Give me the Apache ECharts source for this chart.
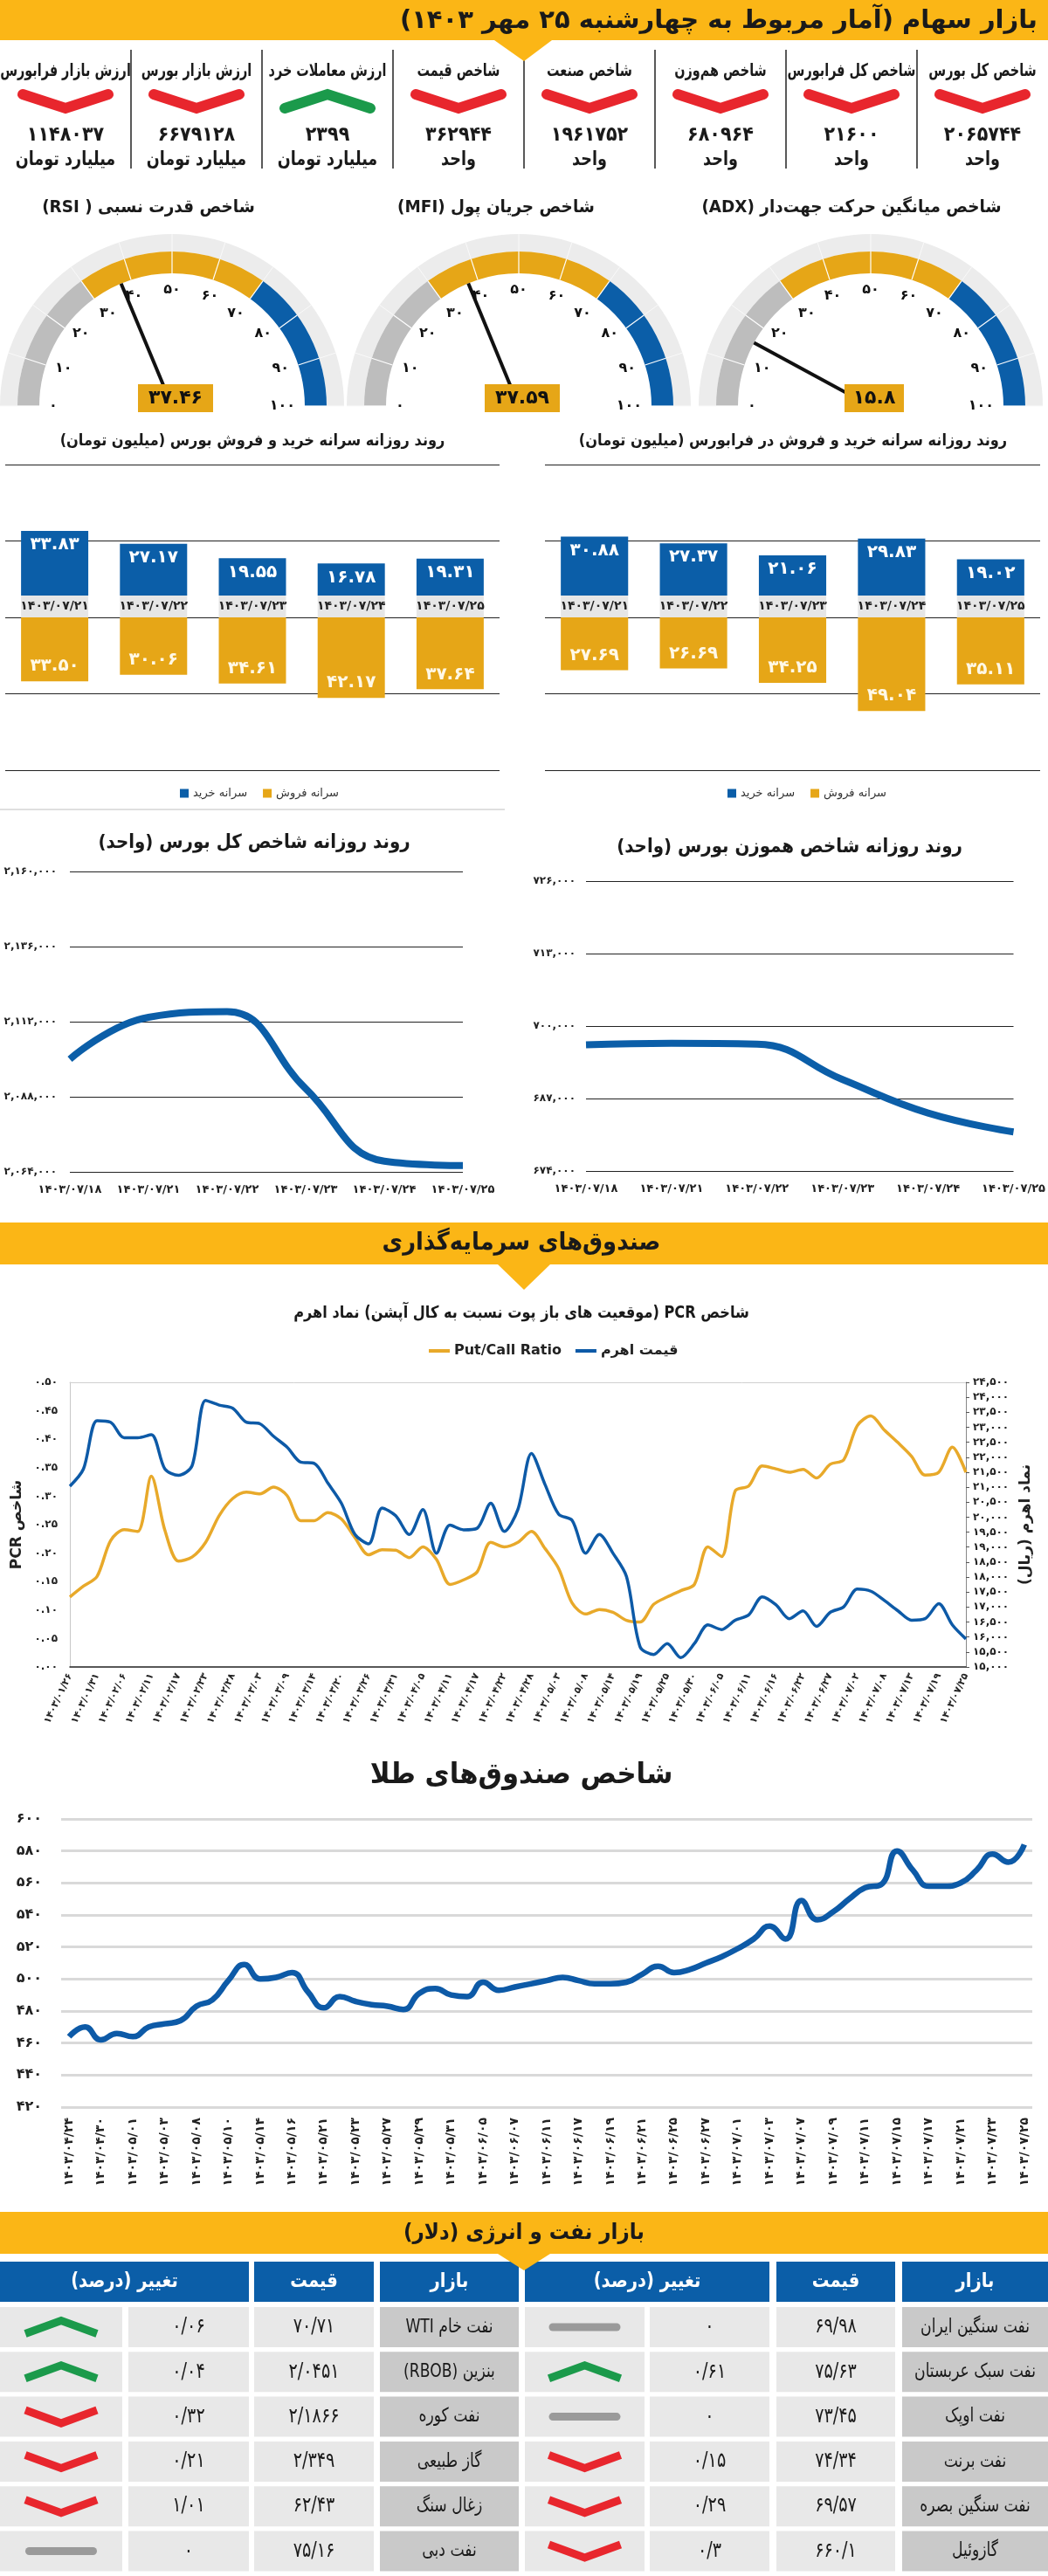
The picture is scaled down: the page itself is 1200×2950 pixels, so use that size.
<!DOCTYPE html>
<html><head><meta charset="utf-8">
<script src="https://cdn.jsdelivr.net/npm/echarts@6/dist/echarts.min.js"></script>
<style>html,body{margin:0;padding:0;background:#fff}#c{width:1200px;height:2950px;direction:rtl}</style>
</head><body><div id="c"></div><script>
// ---------------- DATA ----------------
const indexTitles = ['شاخص کل بورس','شاخص کل فرابورس','شاخص هم‌وزن','شاخص صنعت','شاخص قیمت','ارزش معاملات خرد','ارزش بازار بورس','ارزش بازار فرابورس'];
const indexValues = [2065744, 21600, 680964, 1961752, 362944, 2399, 6679128, 1148037];
const indexUnits = ['واحد','واحد','واحد','واحد','واحد','میلیارد تومان','میلیارد تومان','میلیارد تومان'];
const indexDirs = ['down','down','down','down','down','up','down','down'];

const gaugeTitles = ['شاخص قدرت نسبی ( RSI)','شاخص جریان پول (MFI)','شاخص میانگین حرکت جهت‌دار (ADX)'];
const gaugeValues = [37.46, 37.59, 15.8];

const barDates = ['1403/07/21','1403/07/22','1403/07/23','1403/07/24','1403/07/25'];
const bourseBuy = [33.83, 27.17, 19.55, 16.78, 19.31];
const bourseSell = [33.50, 30.06, 34.61, 42.17, 37.64];
const faraBuy = [30.88, 27.37, 21.06, 29.83, 19.02];
const faraSell = [27.69, 26.69, 34.25, 49.04, 35.11];

const lineDates = ['1403/07/18','1403/07/21','1403/07/22','1403/07/23','1403/07/24','1403/07/25'];
const totalIndex = [2100000, 2113400, 2115200, 2090600, 2067400, 2066000];
const equalIndex = [696650, 696900, 696750, 690400, 684400, 681000];

const pcrLabelDates = ['1403/01/26','1403/01/31','1403/02/06','1403/02/11','1403/02/17','1403/02/23','1403/02/28','1403/03/03','1403/03/09','1403/03/14','1403/03/20','1403/03/26','1403/03/31','1403/04/05','1403/04/11','1403/04/17','1403/04/22','1403/04/28','1403/05/03','1403/05/08','1403/05/14','1403/05/19','1403/05/25','1403/05/30','1403/06/05','1403/06/11','1403/06/16','1403/06/22','1403/06/27','1403/07/02','1403/07/08','1403/07/13','1403/07/19','1403/07/25'];
const pcrRatio = [0.123,0.142,0.159,0.222,0.241,0.238,0.335,0.240,0.186,0.193,0.219,0.266,0.296,0.307,0.304,0.316,0.301,0.257,0.257,0.271,0.260,0.227,0.197,0.206,0.205,0.192,0.211,0.189,0.145,0.153,0.167,0.219,0.211,0.219,0.238,0.208,0.173,0.112,0.093,0.101,0.096,0.082,0.079,0.110,0.123,0.134,0.145,0.211,0.194,0.309,0.318,0.353,0.348,0.342,0.347,0.332,0.356,0.364,0.424,0.441,0.416,0.394,0.370,0.337,0.342,0.386,0.342];
const pcrPrice = [21035,21607,23220,23168,22648,22648,22752,21607,21400,21711,23896,23740,23636,23168,23116,22700,22335,21836,21795,21139,20463,19422,19110,20307,20046,19422,20255,18798,19734,19578,19630,20463,19526,20255,22127,21087,20098,19890,18798,19422,18798,18017,15676,15416,15780,15312,15780,16405,16249,16561,16738,17341,17081,16613,16873,16353,16821,17008,17601,17528,17216,16873,16561,16613,17112,16405,15936];

const goldLabelDates = ['1403/04/24','1403/04/30','1403/05/01','1403/05/03','1403/05/08','1403/05/10','1403/05/14','1403/05/16','1403/05/21','1403/05/23','1403/05/27','1403/05/29','1403/05/31','1403/06/05','1403/06/07','1403/06/11','1403/06/17','1403/06/19','1403/06/21','1403/06/25','1403/06/27','1403/07/01','1403/07/03','1403/07/07','1403/07/09','1403/07/11','1403/07/15','1403/07/17','1403/07/21','1403/07/23','1403/07/25'];
const goldIndex = [464,470,462,466,464,470,472,474,483,487,499,509,500,501,504,492,482,489,486,484,483,481,491,494,490,489,498,493,495,497,499,501,499,497,497,498,503,508,504,506,510,514,519,525,533,525,549,537,542,550,557,559,580,568,558,558,560,568,578,573,584];

const oilNamesR = ['نفت سنگین ایران','نفت سبک عربستان','نفت اوپک','نفت برنت','نفت سنگین بصره','گازوئیل'];
const oilPricesR = ['69.98','75.63','73.45','74.34','69.57','660.1'];
const oilChangesR = ['0','0.61','0','0.15','0.29','0.3'];
const oilDirsR = ['flat','up','flat','down','down','down'];
const oilNamesL = ['نفت خام WTI','بنزین (RBOB)','نفت کوره','گاز طبیعی','زغال سنگ','نفت دبی'];
const oilPricesL = ['70.71','2.0451','2.1866','2.349','62.43','75.16'];
const oilChangesL = ['0.06','0.04','0.32','0.21','1.01','0'];
const oilDirsL = ['up','up','down','down','down','flat'];

// ---------------- HELPERS ----------------
const FONT = "'DejaVu Sans',sans-serif";
const BLUE='#0b5ea8', GOLD='#e6a617', YEL='#fbb616', RED='#e8262d', GREEN='#1b9a4b', DARK='#1a1a1a';
const fa = s => String(s).replace(/[0-9]/g, d => '۰۱۲۳۴۵۶۷۸۹'[+d]);
const fx = (v, d) => fa(Number(v).toFixed(d));
const fc = v => fa(Math.round(v).toLocaleString('en-US'));
const font = (size, bold) => (bold ? 'bold ' : '') + size + 'px ' + FONT;

const G = [];
const txt = (text, x, y, size, o = {}) => G.push({type:'text', x, y, scaleX: o.sx || 1, silent:true, z:10,
  style:{text, font: font(size, o.bold !== false), fill: o.fill || DARK, align: o.align || 'center', verticalAlign:'middle'}});
const rect = (x, y, w, h, fill, r) => G.push({type:'rect', silent:true, shape:{x, y, width:w, height:h, r:r || 0}, style:{fill}});
const poly = (points, fill) => G.push({type:'polygon', silent:true, z:5, shape:{points}, style:{fill}});
const seg = (x1, y1, x2, y2, stroke, lw) => G.push({type:'line', silent:true, shape:{x1, y1, x2, y2}, style:{stroke, lineWidth:lw}});
function icon(dir, cx, cy, w, h, lw, cap) {
  if (dir === 'flat') { rect(cx - w / 2, cy - lw / 2, w, lw, '#9a9a9a', lw / 2); return; }
  const up = dir === 'up';
  const a = up ? cy + h / 2 : cy - h / 2, b = up ? cy - h / 2 : cy + h / 2;
  G.push({type:'polyline', silent:true, z:6, shape:{points:[[cx - w / 2, a], [cx, b], [cx + w / 2, a]]},
    style:{stroke: up ? GREEN : RED, lineWidth: lw, fill: null, lineCap: cap, lineJoin: 'miter'}});
}

// ---------------- HEADER + INDEX BOXES ----------------
rect(0, 0, 1200, 46, YEL);
poly([[566, 46], [632, 46], [600, 70]], YEL);
txt('بازار سهام (آمار مربوط به چهارشنبه ۲۵ مهر ۱۴۰۳)', 1188, 24, 29, {align:'right'});
indexTitles.forEach((t, i) => {
  const cx = 1125 - 150 * i;
  txt(t, cx, 82, 20, {sx:0.72});
  icon(indexDirs[i], cx, 116, 98, 16, 12, 'round');
  txt(fa(indexValues[i]), cx, 155, 23, {sx:0.9});
  txt(indexUnits[i], cx, 183, 22, {sx:0.8});
});
for (let k = 1; k < 8; k++) seg(150 * k, 57, 150 * k, 193, '#222', 1.5);

// gauge titles
const gaugeCx = [197, 594, 997];
const gaugeTitleX = [170, 568, 975];
gaugeTitles.forEach((t, i) => txt(t, gaugeTitleX[i], 238, 20, {sx:0.92}));

// bar & line titles
txt('روند روزانه سرانه خرید و فروش بورس (میلیون تومان)', 289, 505, 18, {sx:0.9});
txt('روند روزانه سرانه خرید و فروش در فرابورس (میلیون تومان)', 908, 505, 18, {sx:0.9});
seg(0, 927, 578, 927, '#d5d5d5', 1.5);
txt('روند روزانه شاخص کل بورس (واحد)', 291, 965, 22, {sx:0.9});
txt('روند روزانه شاخص هموزن بورس (واحد)', 904, 970, 22, {sx:0.9});

// section 2
rect(0, 1400, 1200, 48, YEL);
poly([[570, 1448], [630, 1448], [600, 1477]], YEL);
txt('صندوق‌های سرمایه‌گذاری', 597, 1424, 28, {sx:0.92});
txt('شاخص PCR (موقعیت های باز پوت نسبت به کال آپشن) نماد اهرم', 597, 1504, 19, {sx:0.85});
txt('شاخص صندوق‌های طلا', 597, 2033, 33, {sx:0.93});

// section 3: table
rect(0, 2533, 1200, 48, YEL);
txt('بازار نفت و انرژی (دلار)', 600, 2557, 25, {sx:0.92});
const tblR = {name:[1033, 167], price:[889, 136], num:[744, 137], icon:[601, 137]};
const tblL = {name:[435, 159], price:[291, 137], num:[147, 138], icon:[0, 140]};
[tblR, tblL].forEach(c => {
  rect(c.name[0], 2590, c.name[1], 46, BLUE);
  txt('بازار', c.name[0] + c.name[1] / 2, 2613, 23, {fill:'#fff', sx:0.85});
  rect(c.price[0], 2590, c.price[1], 46, BLUE);
  txt('قیمت', c.price[0] + c.price[1] / 2, 2613, 23, {fill:'#fff', sx:0.85});
  const w = c.num[0] + c.num[1] - c.icon[0];
  rect(c.icon[0], 2590, w, 46, BLUE);
  txt('تغییر (درصد)', c.icon[0] + w / 2, 2613, 23, {fill:'#fff', sx:0.85});
});
poly([[570, 2581], [630, 2581], [600, 2600]], YEL);
function tableRows(c, names, prices, changes, dirs) {
  names.forEach((n, r) => {
    const y = 2642 + r * 51.3, h = 46, cy = y + h / 2;
    rect(c.name[0], y, c.name[1], h, '#c9c9c9');
    rect(c.price[0], y, c.price[1], h, '#e8e8e8');
    rect(c.num[0], y, c.num[1], h, '#e8e8e8');
    rect(c.icon[0], y, c.icon[1], h, '#e8e8e8');
    txt(n, c.name[0] + c.name[1] / 2, cy, 22, {bold:false, sx:0.78});
    txt(fa(prices[r]).replace('.', '/'), c.price[0] + c.price[1] / 2, cy, 24, {bold:false, sx:0.8});
    txt(fa(changes[r]).replace('.', '/'), c.num[0] + c.num[1] / 2, cy, 24, {bold:false, sx:0.8});
    icon(dirs[r], c.icon[0] + c.icon[1] / 2, cy, 82, 15, 9, 'butt');
  });
}
tableRows(tblR, oilNamesR, oilPricesR, oilChangesR, oilDirsR);
tableRows(tblL, oilNamesL, oilPricesL, oilChangesL, oilDirsL);

// ---------------- CHART OPTION ----------------
const BAND = 11.4; // height of the grey date band (layout only)
const lbl = (size, extra = {}) => Object.assign({fontFamily: FONT, fontWeight:'bold', fontSize:size, color:'#222'}, extra);

function gauges(i) {
  const c = [gaugeCx[i], 465];
  const v = gaugeValues[i];
  const base = {type:'gauge', center:c, startAngle:180, endAngle:0, min:0, max:100, splitNumber:10, silent:true};
  return [
    Object.assign({}, base, {radius:197, z:1,
     axisLine:{lineStyle:{width:20, color:[[1, '#ececec']]}},
     splitLine:{show:true, length:20, distance:-20, lineStyle:{color:'#fafafa', width:1}}, axisTick:{show:false}, axisLabel:{show:false},
     pointer:{show:false}, anchor:{show:false}, title:{show:false}, detail:{show:false}, data:[{value:0}]}),
    Object.assign({}, base, {radius:177, z:2,
     axisLine:{lineStyle:{width:25, color:[[0.3, '#bdbdbd'], [0.7, GOLD], [1, BLUE]]}},
     splitLine:{show:true, length:25, distance:-25, lineStyle:{color:'#fff', width:1.2}},
     axisTick:{show:false},
     axisLabel:lbl(16, {distance:36, color:'#111', formatter: x => fa(x)}),
     pointer:{show:true, icon:'rect', length:152, width:4, offsetCenter:[0, 0], itemStyle:{color:'#111'}},
     anchor:{show:false}, title:{show:false}, detail:{show:false},
     data:[{value:v}]}),
    Object.assign({}, base, {radius:177, z:4,
     axisLine:{show:false}, splitLine:{show:false}, axisTick:{show:false}, axisLabel:{show:false},
     pointer:{show:false}, anchor:{show:false}, title:{show:false},
     detail:{show:true, valueAnimation:false, formatter: x => fa(x), offsetCenter:[4, -9],
       width: String(v).length * 18 - 4, height:32, lineHeight:32, padding:0,
       backgroundColor:GOLD, color:'#111', fontSize:22, fontWeight:'bold', fontFamily:FONT},
     data:[{value:v}]})
  ];
}

function barSeries(ax, buy, sell) {
  return [
    {type:'bar', name:'band', xAxisIndex:ax, yAxisIndex:ax, stack:'b' + ax, barWidth:'68%', barGap:'-100%', silent:true,
     data: buy.map(() => BAND), itemStyle:{color:'#e6e6e6'},
     label:lbl(14, {show:true, position:'inside', formatter: p => fa(p.name)})},
    {type:'bar', name:'سرانه خرید', xAxisIndex:ax, yAxisIndex:ax, stack:'b' + ax, barWidth:'68%', barGap:'-100%',
     data: buy, itemStyle:{color:BLUE},
     label:lbl(20, {show:true, position:'insideTop', distance:6, color:'#fff', formatter: p => fx(p.value, 2)})},
    {type:'bar', name:'سرانه فروش', xAxisIndex:ax, yAxisIndex:ax, barWidth:'68%', barGap:'-100%',
     data: sell.map(x => -x), itemStyle:{color:GOLD},
     label:lbl(20, {show:true, position:'insideBottom', distance:7, color:'#fff8e6', formatter: p => fx(Math.abs(p.value), 2)})}
  ];
}

const hidden = {axisLine:{show:false}, axisTick:{show:false}, axisLabel:{show:false}, splitLine:{show:false}};
const pcrCats = pcrRatio.map((_, j) => j % 2 === 0 ? pcrLabelDates[j / 2] : '');
const goldCats = goldIndex.map((_, j) => j % 2 === 0 ? goldLabelDates[j / 2] : '');

const option = {
  animation:false,
  backgroundColor:'#fff',
  textStyle:{fontFamily:FONT},
  legend:[
    {data:['سرانه خرید', 'سرانه فروش'], left:201, top:897, icon:'rect', itemWidth:10, itemHeight:10, itemGap:18,
     textStyle:{fontFamily:FONT, fontSize:13, color:'#333'}, selectedMode:false},
    {data:['سرانه خرید', 'سرانه فروش'], left:828, top:897, icon:'rect', itemWidth:10, itemHeight:10, itemGap:18,
     textStyle:{fontFamily:FONT, fontSize:13, color:'#333'}, selectedMode:false},
    {data:['Put/Call Ratio', 'قیمت اهرم'], left:486, top:1534, icon:'rect', itemWidth:24, itemHeight:4, itemGap:16,
     textStyle:{fontFamily:FONT, fontSize:16, fontWeight:'bold', color:'#222'}, selectedMode:false}
  ],
  grid:[
    {left:6, top:532, width:566, height:350},
    {left:624, top:532, width:567, height:350},
    {left:80, top:998, width:450, height:344},
    {left:671, top:1009, width:493, height:332},
    {left:80, top:1583, width:1026, height:326},
    {left:70, top:2083, width:1112, height:330}
  ],
  xAxis:[
    Object.assign({type:'category', gridIndex:0, data:barDates}, hidden),
    Object.assign({type:'category', gridIndex:1, data:barDates}, hidden),
    {type:'category', gridIndex:2, data:lineDates, boundaryGap:false, axisLine:{show:false}, axisTick:{show:false},
     axisLabel:lbl(13, {interval:0, margin:14, formatter: v => fa(v)})},
    {type:'category', gridIndex:3, data:lineDates, boundaryGap:false, axisLine:{show:false}, axisTick:{show:false},
     axisLabel:lbl(13, {interval:0, margin:14, formatter: v => fa(v)})},
    {type:'category', gridIndex:4, data:pcrCats, boundaryGap:false, axisLine:{lineStyle:{color:'#222', width:1.5}}, axisTick:{show:false},
     axisLabel:lbl(11, {interval:0, rotate:65, margin:8, formatter: v => fa(v)})},
    {type:'category', gridIndex:5, data:goldCats, axisLine:{show:false}, axisTick:{show:false},
     axisLabel:lbl(14, {interval:0, rotate:90, margin:12, formatter: v => fa(v)})},
    {type:'category', gridIndex:4, data:pcrCats, position:'top', boundaryGap:false, axisLine:{lineStyle:{color:'#d0d0d0'}},
     axisTick:{show:false}, axisLabel:{show:false}}
  ],
  yAxis:[
    {type:'value', gridIndex:0, min:-80, max:80, interval:40, axisLine:{show:false}, axisTick:{show:false}, axisLabel:{show:false},
     splitLine:{lineStyle:{color:'#222', width:1.2}}},
    {type:'value', gridIndex:1, min:-80, max:80, interval:40, axisLine:{show:false}, axisTick:{show:false}, axisLabel:{show:false},
     splitLine:{lineStyle:{color:'#222', width:1.2}}},
    {type:'value', gridIndex:2, min:2064000, max:2160000, interval:24000, axisLine:{show:false}, axisTick:{show:false},
     axisLabel:lbl(12, {margin:15, formatter: v => fc(v)}), splitLine:{lineStyle:{color:'#222', width:1.2}}},
    {type:'value', gridIndex:3, min:674000, max:726000, interval:13000, axisLine:{show:false}, axisTick:{show:false},
     axisLabel:lbl(12, {margin:12, formatter: v => fc(v)}), splitLine:{lineStyle:{color:'#222', width:1.2}}},
    {type:'value', gridIndex:4, min:0, max:0.5, interval:0.05, axisLine:{show:true, lineStyle:{color:'#c8c8c8'}}, axisTick:{show:false},
     axisLabel:lbl(12, {margin:14, formatter: v => fx(v, 2)}), splitLine:{show:false},
     name:'شاخص PCR', nameLocation:'middle', nameRotate:90, nameGap:52, nameTextStyle:lbl(17)},
    {type:'value', gridIndex:4, position:'right', min:15000, max:24500, interval:500, axisLine:{show:true, lineStyle:{color:'#888'}},
     axisTick:{show:true, length:4, lineStyle:{color:'#555'}},
     axisLabel:lbl(12, {margin:8, formatter: v => fc(v)}), splitLine:{show:false},
     name:'نماد اهرم (ریال)', nameLocation:'middle', nameRotate:90, nameGap:60, nameTextStyle:lbl(17)},
    {type:'value', gridIndex:5, min:420, max:600, interval:20, axisLine:{show:false}, axisTick:{show:false},
     axisLabel:lbl(16, {margin:22, formatter: v => fa(v)}), splitLine:{lineStyle:{color:'#d9d9d9', width:3}}}
  ],
  series:[
    ...gauges(0), ...gauges(1), ...gauges(2),
    ...barSeries(0, bourseBuy, bourseSell),
    ...barSeries(1, faraBuy, faraSell),
    {type:'line', name:'شاخص کل بورس', xAxisIndex:2, yAxisIndex:2, data:totalIndex, smooth:0.45, symbol:'none',
     lineStyle:{width:8, color:BLUE}, itemStyle:{color:BLUE}},
    {type:'line', name:'شاخص هم‌وزن', xAxisIndex:3, yAxisIndex:3, data:equalIndex, smooth:0.45, symbol:'none',
     lineStyle:{width:8, color:BLUE}, itemStyle:{color:BLUE}},
    {type:'line', name:'Put/Call Ratio', xAxisIndex:4, yAxisIndex:4, data:pcrRatio, smooth:0.3, symbol:'none',
     lineStyle:{width:3.5, color:'#e8a92a'}, itemStyle:{color:'#e8a92a'}},
    {type:'line', name:'قیمت اهرم', xAxisIndex:4, yAxisIndex:5, data:pcrPrice, smooth:0.3, symbol:'none',
     lineStyle:{width:3.5, color:'#0d5aa7'}, itemStyle:{color:'#0d5aa7'}},
    {type:'line', name:'شاخص صندوق‌های طلا', xAxisIndex:5, yAxisIndex:6, data:goldIndex, smooth:true, symbol:'none',
     lineStyle:{width:6.5, color:'#0d5aa7'}, itemStyle:{color:'#0d5aa7'}}
  ],
  graphic:{elements:G}
};

const chart = echarts.init(document.getElementById('c'), null, {renderer:'canvas', width:1200, height:2950});
chart.setOption(option);
</script></body></html>
